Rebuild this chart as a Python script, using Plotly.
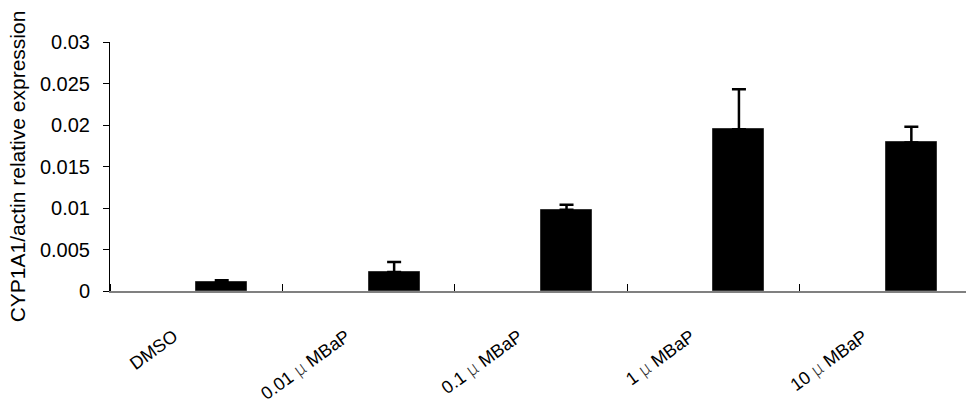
import plotly.graph_objects as go

categories = ["DMSO", "0.01 μ MBaP", "0.1 μ MBaP", "1 μ MBaP", "10 μ MBaP"]
values = [0.0011, 0.0023, 0.0098, 0.0195, 0.0179]
errors = [0.0002, 0.0012, 0.0006, 0.0048, 0.0019]
y_ticks = [0, 0.005, 0.01, 0.015, 0.02, 0.025, 0.03]
y_tick_text = ["0", "0.005", "0.01", "0.015", "0.02", "0.025", "0.03"]

positions = list(range(len(categories)))

def fmt(label):
    return label.replace("μ", '<span style="font-family:Noto Sans CJK JP;font-weight:300;color:#333">μ</span>')

fig = go.Figure()
fig.add_trace(go.Bar(
    x=positions,
    y=values,
    offset=0,
    width=0.296,
    marker=dict(color="black", line=dict(color="#333", width=1)),
    error_y=dict(type="data", array=errors, arrayminus=[0] * len(errors),
                 symmetric=False, color="black", thickness=2.5, width=7),
    showlegend=False,
))

fig.update_layout(
    width=966, height=409,
    margin=dict(l=110, r=0, t=42, b=118),
    plot_bgcolor="white", paper_bgcolor="white",
    font=dict(family="Liberation Sans, Arial, sans-serif", size=19, color="black"),
    bargap=0,
)
fig.update_xaxes(
    range=[-0.5, 4.465],
    tickmode="array",
    tickvals=[p - 0.13 for p in positions],
    ticktext=[fmt(c) for c in categories],
    tickangle=-36,
    ticks="",
    ticklabelstandoff=26,
    tickfont=dict(size=18),
    showline=True, linecolor="#808080", linewidth=2,
    showgrid=False, zeroline=False,
    minor=dict(tickmode="linear", tick0=0.5, dtick=1, ticks="inside", ticklen=7,
               tickcolor="black", tickwidth=1, showgrid=False),
)
fig.update_yaxes(
    range=[0, 0.03],
    tickmode="array",
    tickvals=y_ticks,
    ticktext=y_tick_text,
    ticks="outside", ticklen=6, tickcolor="black", tickwidth=1,
    tickfont=dict(size=20),
    ticklabelstandoff=9,
    showline=True, linecolor="black", linewidth=1,
    showgrid=False, zeroline=False,
    title=dict(text="CYP1A1/actin relative expression", font=dict(size=21), standoff=8),
)

fig.write_html("out.html")
